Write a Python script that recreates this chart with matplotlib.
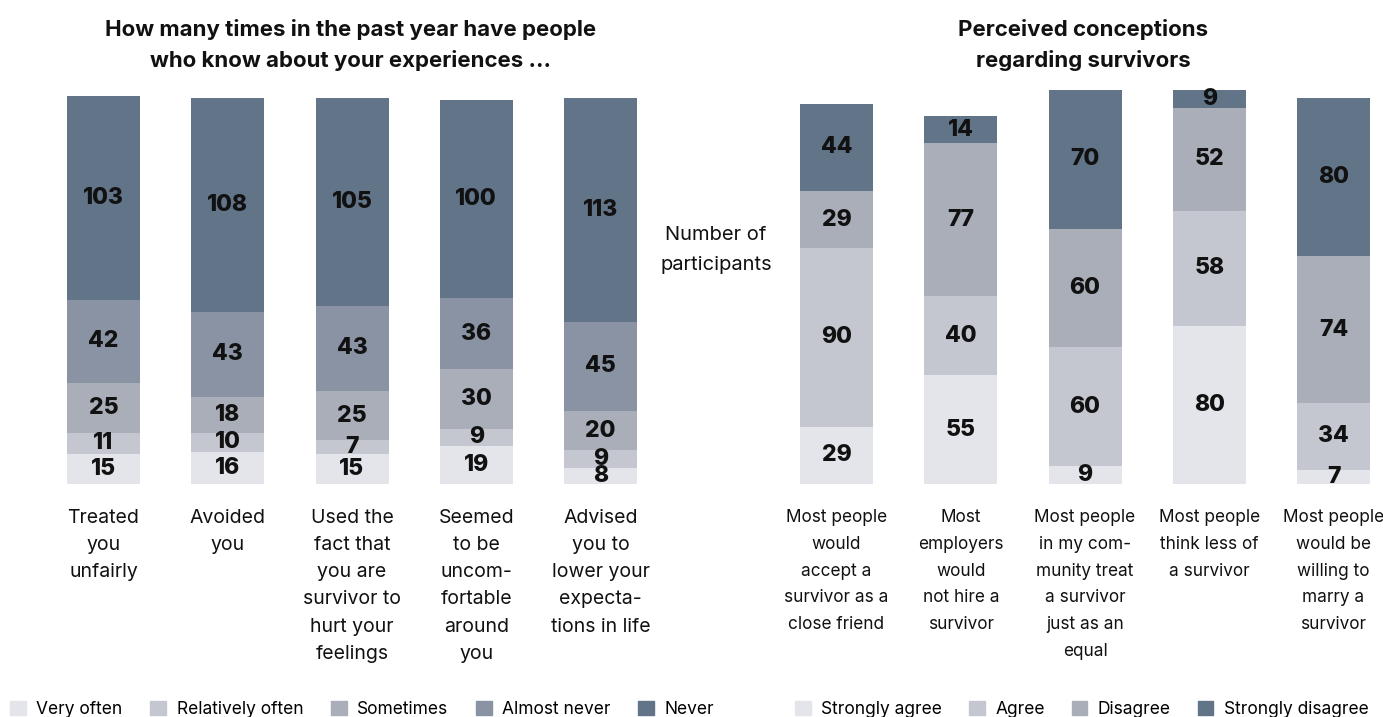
import matplotlib.pyplot as plt
from matplotlib.patches import Patch

plt.rcParams['font.family'] = ['Inter', 'DejaVu Sans']

# left panel: how often people reacted in the past year
freq_cats = ['Treated\nyou\nunfairly', 'Avoided\nyou',
             'Used the\nfact that\nyou are\nsurvivor to\nhurt your\nfeelings',
             'Seemed\nto be\nuncom-\nfortable\naround\nyou',
             'Advised\nyou to\nlower your\nexpecta-\ntions in life']
freq_levels = ['Very often', 'Relatively often', 'Sometimes', 'Almost never', 'Never']
very_often = [15, 16, 15, 19, 8]
relatively_often = [11, 10, 7, 9, 9]
sometimes = [25, 18, 25, 30, 20]
almost_never = [42, 43, 43, 36, 45]
never = [103, 108, 105, 100, 113]

# right panel: perceived conceptions
conc_cats = ['Most people\nwould\naccept a\nsurvivor as a\nclose friend',
             'Most\nemployers\nwould\nnot hire a\nsurvivor',
             'Most people\nin my com-\nmunity treat\na survivor\njust as an\nequal',
             'Most people\nthink less of\na survivor',
             'Most people\nwould be\nwilling to\nmarry a\nsurvivor']
agree_levels = ['Strongly agree', 'Agree', 'Disagree', 'Strongly disagree']
strongly_agree = [29, 55, 9, 80, 7]
agree = [90, 40, 60, 58, 34]
disagree = [29, 77, 60, 52, 74]
strongly_disagree = [44, 14, 70, 9, 80]

c_vo = '#e4e5ea'
c_ro = '#c4c7d0'
c_so = '#a9aeb9'
c_an = '#8a93a3'
c_nv = '#617488'

W, H = 1383, 717
fig = plt.figure(figsize=(W / 100, H / 100), dpi=100)

step = 124.25
unit = 1.98
bottom_px = 484
ymax = 200

def make_ax(center0, right_px=None):
    left = center0 - step / 2
    right = right_px if right_px else center0 + 4 * step + step / 2
    ax = fig.add_axes([left / W, (H - bottom_px) / H, (right - left) / W, ymax * unit / H])
    ax.set_xlim(-0.5, -0.5 + (right - left) / step)
    ax.set_ylim(0, ymax)
    ax.axis('off')
    return ax

def stack(ax, series, colors):
    x = range(len(series[0]))
    base = [0] * len(series[0])
    for vals, col in zip(series, colors):
        ax.bar(x, vals, bottom=base, width=73 / step, color=col, linewidth=0)
        for i, v in enumerate(vals):
            ax.text(i, base[i] + v / 2, str(v), ha='center', va='center',
                    fontsize=16.5, fontweight='heavy', color='#111111')
        base = [b + v for b, v in zip(base, vals)]

ax1 = make_ax(103.5)
stack(ax1, [very_often, relatively_often, sometimes, almost_never, never],
      [c_vo, c_ro, c_so, c_an, c_nv])
for i, lab in enumerate(freq_cats):
    ax1.text(i, -12.5, lab, ha='center', va='top', fontsize=14,
             color='#111111', linespacing=1.66)

ax2 = make_ax(836.5, right_px=1383)
stack(ax2, [strongly_agree, agree, disagree, strongly_disagree],
      [c_vo, c_ro, c_so, c_nv])
for i, lab in enumerate(conc_cats):
    ax2.text(i, -12.5, lab, ha='center', va='top', fontsize=12.4,
             color='#111111', linespacing=1.76)

fig.text(351 / W, 1 - 45 / H,
         'How many times in the past year have people\nwho know about your experiences ...',
         ha='center', va='center', fontsize=16, fontweight='bold',
         linespacing=1.62, color='#111111')
fig.text(1083 / W, 1 - 45 / H, 'Perceived conceptions\nregarding survivors',
         ha='center', va='center', fontsize=16, fontweight='bold',
         linespacing=1.62, color='#111111')
fig.text(716 / W, 1 - 250 / H, 'Number of\nparticipants', ha='center', va='center',
         fontsize=14.5, linespacing=1.85, color='#111111')

h1 = [Patch(color=c) for c in [c_vo, c_ro, c_so, c_an, c_nv]]
fig.legend(h1, freq_levels, loc='lower left', bbox_to_anchor=(0.0, -0.016),
           ncol=5, frameon=False, fontsize=12.5, handlelength=0.9,
           handleheight=0.9, handletextpad=0.6, columnspacing=1.6,
           borderaxespad=0.2)
h2 = [Patch(color=c) for c in [c_vo, c_ro, c_so, c_nv]]
fig.legend(h2, agree_levels, loc='lower left', bbox_to_anchor=(785 / W, -0.016),
           ncol=4, frameon=False, fontsize=12.5, handlelength=0.9,
           handleheight=0.9, handletextpad=0.6, columnspacing=1.55,
           borderaxespad=0.2)

fig.savefig('out.png', dpi=100)
